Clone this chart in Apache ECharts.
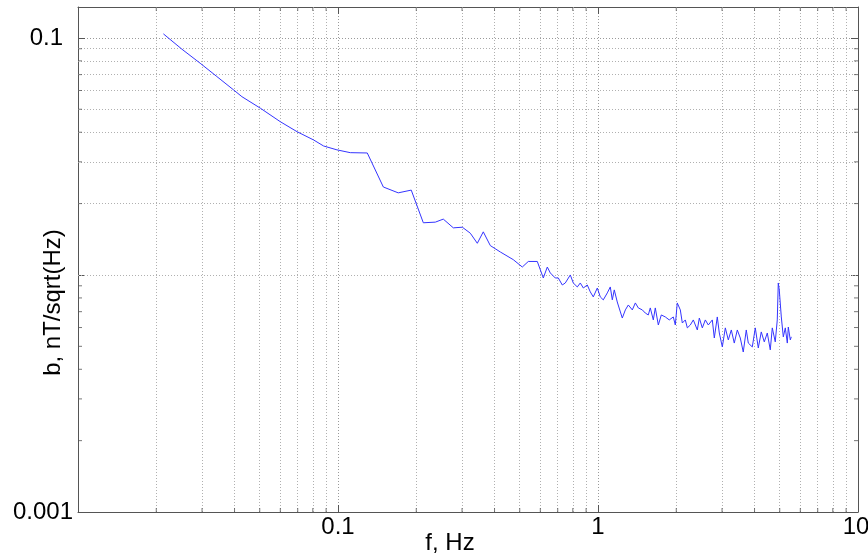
<!DOCTYPE html>
<html>
<head>
<meta charset="UTF-8">
<title>b spectrum</title>
<script src="https://cdn.jsdelivr.net/npm/echarts@6/dist/echarts.min.js"></script>
<style>
  html, body { margin: 0; padding: 0; background: #fff; }
  #main { width: 868px; height: 555px; }
</style>
</head>
<body>
<div id="main"></div>
<script>
// frequency, Hz
var freq = [0.0213, 0.0251, 0.0295, 0.0342, 0.0397, 0.0427, 0.0503, 0.0600, 0.0696, 0.0806,
  0.0880, 0.0991, 0.1115, 0.1296, 0.1494, 0.1705, 0.1913, 0.2129, 0.2367, 0.2541,
  0.2777, 0.3007, 0.3228, 0.3434, 0.3621, 0.3853, 0.421, 0.4723, 0.5115, 0.5394,
  0.5841, 0.6161, 0.6383, 0.6554, 0.685, 0.7035, 0.7289, 0.7485, 0.7825, 0.8035,
  0.8325, 0.8548, 0.8781, 0.9095, 0.9341, 0.9592, 0.9938, 1.0205, 1.048, 1.086,
  1.115, 1.135, 1.155, 1.186, 1.24, 1.274, 1.308, 1.355, 1.392, 1.429,
  1.481, 1.52, 1.561, 1.589, 1.632, 1.661, 1.706, 1.752, 1.815, 1.88,
  1.948, 1.983, 2.018, 2.073, 2.11, 2.167, 2.206, 2.265, 2.326, 2.41,
  2.453, 2.519, 2.587, 2.656, 2.752, 2.801, 2.876, 2.928, 3.007, 3.088,
  3.171, 3.256, 3.343, 3.434, 3.526, 3.62, 3.718, 3.785, 3.922, 4.027,
  4.135, 4.246, 4.36, 4.478, 4.598, 4.681, 4.806, 4.892, 4.936, 4.98,
  5.07, 5.161, 5.253, 5.347, 5.394, 5.49, 5.539];

// b, nT/sqrt(Hz)
var amp = [0.104, 0.0896, 0.0782, 0.0687, 0.0603, 0.0565, 0.0505, 0.0443, 0.0402, 0.0371,
  0.0350, 0.0337, 0.0328, 0.0327, 0.0235, 0.0222, 0.0228, 0.0166, 0.0167, 0.0172,
  0.0158, 0.0159, 0.0150, 0.0136, 0.0152, 0.0133, 0.0125, 0.0116, 0.0108, 0.0114,
  0.0114, 0.00971, 0.0108, 0.0102, 0.00971, 0.00971, 0.00907, 0.00925, 0.0100, 0.00925,
  0.00890, 0.00925, 0.00881, 0.00907, 0.00848, 0.00808, 0.00881, 0.00808, 0.00785, 0.00840,
  0.00890, 0.00785, 0.00865, 0.00769, 0.00658, 0.00712, 0.00747, 0.00712, 0.00762, 0.00726,
  0.00712, 0.00691, 0.00678, 0.00726, 0.00646, 0.00726, 0.00615, 0.00678, 0.00665, 0.00646,
  0.00665, 0.00615, 0.00762, 0.00712, 0.00627, 0.00646, 0.00598, 0.00615, 0.00646, 0.00586,
  0.00658, 0.00598, 0.00646, 0.00615, 0.00646, 0.00542, 0.00665, 0.00569, 0.00497, 0.00598,
  0.00532, 0.00586, 0.00516, 0.00586, 0.00542, 0.00473, 0.00586, 0.00516, 0.00497, 0.00598,
  0.00492, 0.00575, 0.00522, 0.00569, 0.00483, 0.00598, 0.00522, 0.00646, 0.00925, 0.00865,
  0.00665, 0.00548, 0.00598, 0.00516, 0.00603, 0.00532, 0.00548];

// axis ranges and labelled ticks
var xRange = [0.01, 10];
var yRange = [0.001, 0.135];
var xTickLabels = ['0.1', '1', '10'];
var yTickLabels = ['0.001', '0.1'];

var FONT = "'Liberation Sans', Arial, Helvetica, sans-serif";
var GRID_COLOR = '#9a9a9a';
var AXIS_COLOR = '#555555';

// minor gridline positions (2..9 of each decade) inside a range
function minorValues(range) {
  var out = [];
  var start = Math.floor(Math.log10(range[0]));
  var end = Math.ceil(Math.log10(range[1]));
  for (var d = start; d < end; d++) {
    for (var m = 2; m <= 9; m++) {
      var v = m * Math.pow(10, d);
      if (v > range[0] && v < range[1]) out.push(+v.toPrecision(6));
    }
  }
  return out;
}
var xMinor = minorValues(xRange);
var yMinor = minorValues(yRange);

function pickLabel(list, v) {
  for (var i = 0; i < list.length; i++) {
    if (Math.abs(Math.log10(+list[i]) - Math.log10(v)) < 1e-6) return list[i];
  }
  return '';
}

var chart = echarts.init(document.getElementById('main'), null, { renderer: 'canvas' });

var markLines = [];
xMinor.forEach(function (v) { markLines.push({ xAxis: v }); });
yMinor.forEach(function (v) { markLines.push({ yAxis: v }); });

// small inward tick marks at the minor positions, on all four sides
var tickBottom = xMinor.map(function (v) { return [v, yRange[0]]; });
var tickTop = xMinor.map(function (v) { return [v, yRange[1]]; });
var tickLeft = yMinor.map(function (v) { return [xRange[0], v]; });
var tickRight = yMinor.map(function (v) { return [xRange[1], v]; });

function tickSeries(data, size, offset) {
  return {
    type: 'scatter',
    data: data,
    symbol: 'rect',
    symbolSize: size,
    symbolOffset: offset,
    itemStyle: { color: AXIS_COLOR },
    silent: true,
    z: 5
  };
}

var axisCommon = {
  type: 'log',
  logBase: 10,
  axisLine: { show: true, lineStyle: { color: AXIS_COLOR, width: 1 } },
  axisTick: { show: true, inside: true, length: 7, lineStyle: { color: AXIS_COLOR } },
  splitLine: { show: false }
};

var option = {
  animation: false,
  grid: { left: 78, right: 10, top: 7, bottom: 43, containLabel: false, outerBoundsMode: 'none' },
  xAxis: [
    Object.assign({}, axisCommon, {
      min: xRange[0], max: xRange[1],
      position: 'bottom',
      splitLine: { show: true, lineStyle: { color: GRID_COLOR, type: [1, 2], width: 1 } },
      axisLabel: {
        margin: 3,
        color: '#000',
        fontSize: 24,
        fontFamily: FONT,
        formatter: function (v) {
          var s = pickLabel(xTickLabels, v);
          return s === '10' ? '{r|10}' : s;
        },
        rich: { r: { fontSize: 24, fontFamily: FONT, color: '#000', padding: [0, 4, 0, 0] } }
      },
      name: 'f, Hz',
      nameLocation: 'middle',
      nameGap: 19,
      nameMoveOverlap: false,
      nameTextStyle: { color: '#000', fontSize: 24, fontFamily: FONT, verticalAlign: 'top', padding: [0, 36, 0, 0] }
    }),
    Object.assign({}, axisCommon, {
      min: xRange[0], max: xRange[1],
      position: 'top',
      axisLabel: { show: false }
    })
  ],
  yAxis: [
    Object.assign({}, axisCommon, {
      min: yRange[0], max: yRange[1],
      position: 'left',
      splitLine: { show: true, lineStyle: { color: GRID_COLOR, type: [1, 2], width: 1 } },
      axisLabel: {
        margin: 5,
        color: '#000',
        fontSize: 24,
        fontFamily: FONT,
        formatter: function (v) {
          var s = pickLabel(yTickLabels, v);
          return s === '0.1' ? '{p|0.1}' : s;
        },
        rich: { p: { fontSize: 24, fontFamily: FONT, color: '#000', padding: [0, 10, 0, 0] } }
      },
      name: 'b, nT/sqrt(Hz)',
      nameLocation: 'middle',
      nameRotate: 90,
      nameGap: 13,
      nameMoveOverlap: false,
      nameTextStyle: { color: '#000', fontSize: 24, fontFamily: FONT, padding: [0, 86, 0, 0] }
    }),
    Object.assign({}, axisCommon, {
      min: yRange[0], max: yRange[1],
      position: 'right',
      axisLabel: { show: false }
    })
  ],
  series: [
    {
      type: 'line',
      data: freq.map(function (f, i) { return [f, amp[i]]; }),
      showSymbol: false,
      symbol: 'none',
      lineStyle: { color: '#3434ff', width: 1 },
      z: 3,
      markLine: {
        silent: true,
        symbol: 'none',
        label: { show: false },
        lineStyle: { color: '#b0b0b0', type: [1, 2], width: 1 },
        emphasis: { disabled: true },
        data: markLines,
        z: 1
      }
    },
    tickSeries(tickBottom, [1, 4], [0, -2]),
    tickSeries(tickTop, [1, 4], [0, 2]),
    tickSeries(tickLeft, [4, 1], [2, 0]),
    tickSeries(tickRight, [4, 1], [-2, 0])
  ]
};

chart.setOption(option);
window.addEventListener('resize', function () { chart.resize(); });
</script>
</body>
</html>
